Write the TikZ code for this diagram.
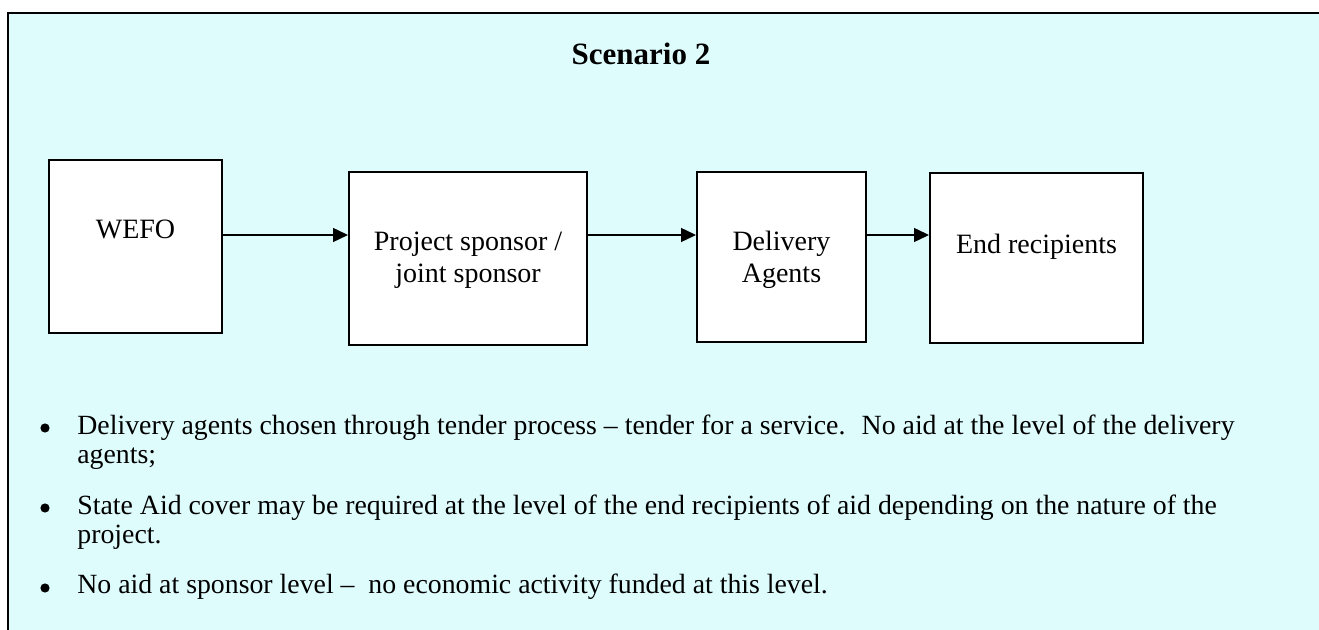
\documentclass[tikz,border=0pt]{standalone}
\usepackage{fontspec}
\setmainfont{Liberation Serif}
\usetikzlibrary{arrows.meta,positioning}

\definecolor{panel}{RGB}{223,252,253}

\tikzstyle{stage} = [draw=black, fill=white, line width=1pt, inner sep=0pt]
\tikzstyle{stagetext} = [anchor=base, align=center, inner sep=0pt, font={\fontsize{14}{16}\selectfont}]
\tikzstyle{flow} = [line width=0.7pt, -{Triangle[length=7.5pt,width=7pt]}]
\tikzstyle{dot} = [circle, fill=black, inner sep=0pt, minimum size=4.6pt]
\tikzstyle{note} = [anchor=base west, align=left, inner sep=0pt, font={\fontsize{13.9}{14.6}\selectfont}]

\begin{document}
\begin{tikzpicture}[x=0.5pt, y=-0.5pt]
  \useasboundingbox (0,0) rectangle (1319,630);
  \fill[panel] (8,13) rectangle (1319,630);
  \draw[line width=1pt] (8,630) -- (8,13) -- (1319,13);

  \node[anchor=base, inner sep=0pt, font={\fontsize{15.5}{18}\selectfont\bfseries}] (title) at (641,65) {Scenario 2};

  % the four stages
  \node[stage, minimum width=86.5pt, minimum height=86.5pt] (wefo) at (135.5,246.5) {};
  \node[stage, minimum width=119pt, minimum height=86.5pt] (sponsor) at (468,258.5) {};
  \node[stage, minimum width=84.5pt, minimum height=85pt] (agents) at (781.5,257) {};
  \node[stage, minimum width=106.5pt, minimum height=85pt] (recip) at (1036.5,258) {};

  % base of a two-line label is its last line
  \node[stagetext] (wefo-t) at ([yshift=-40pt]wefo.north) {WEFO};
  \node[stagetext] (sponsor-t) at ([yshift=-56pt]sponsor.north) {Project sponsor /\\joint sponsor};
  \node[stagetext] (agents-t) at ([yshift=-56pt]agents.north) {Delivery\\Agents};
  \node[stagetext] (recip-t) at ([yshift=-41pt]recip.north) {End recipients};

  % arrows all sit on one line
  \coordinate (lane) at (0,235);
  \draw[flow] (wefo.east |- lane) -- (sponsor.west |- lane);
  \draw[flow] (sponsor.east |- lane) -- (agents.west |- lane);
  \draw[flow] (agents.east |- lane) -- (recip.west |- lane);

  % notes under the chain
  \node[dot] (dot1) at (45,428) {};
  \node[note] (item1) at (77,464) {Delivery agents chosen through tender process – tender for a service.~ No aid at the level of the delivery\\agents;};
  \node[dot] (dot2) at (45,508) {};
  \node[note] (item2) at (77,544) {State Aid cover may be required at the level of the end recipients of aid depending on the nature of the\\project.};
  \node[dot] (dot3) at (45,588) {};
  \node[note] (item3) at (77,594) {No aid at sponsor level –~ no economic activity funded at this level.};

\end{tikzpicture}
\end{document}
